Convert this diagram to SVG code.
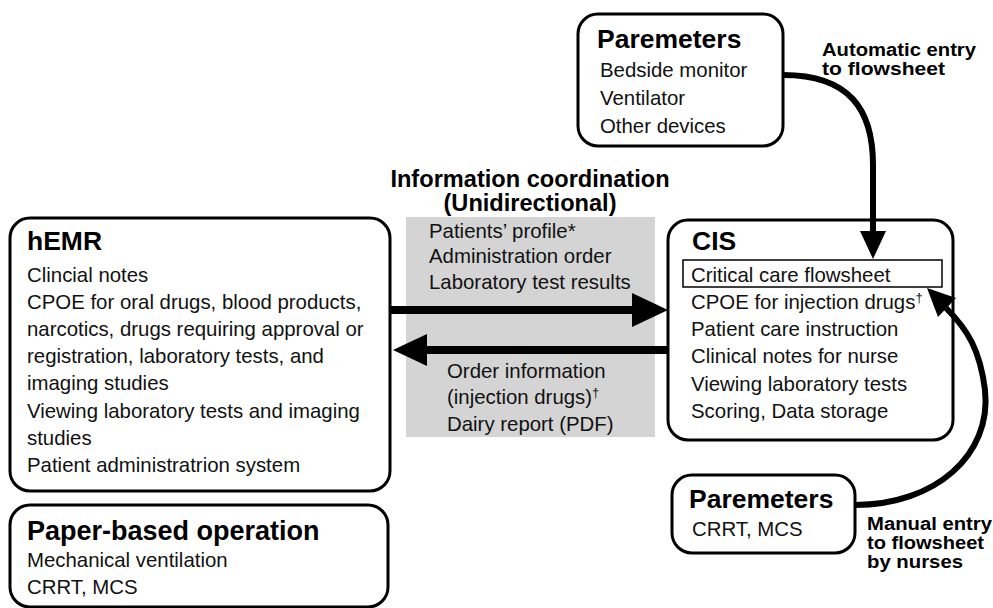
<svg xmlns="http://www.w3.org/2000/svg" width="993" height="608" viewBox="0 0 993 608">
<style>
.box{fill:#fff;stroke:#000;stroke-width:3}
.t{font-family:"Liberation Sans",Arial,sans-serif;font-size:20.4px;fill:#111}
.h{font-family:"Liberation Sans",Arial,sans-serif;font-size:26.5px;font-weight:bold;fill:#000}
.l{font-family:"Liberation Sans",Arial,sans-serif;font-size:18px;font-weight:bold;fill:#000}
.conn{fill:none;stroke:#000}
</style>
<rect x="0" y="0" width="993" height="608" fill="#fff"/>
<g id="coordination">
<rect x="406" y="217" width="249" height="220" fill="#d4d4d4"/>
<text class="l" x="530" y="187" text-anchor="middle" style="font-size:23.6px">Information coordination</text>
<text class="l" x="530" y="211" text-anchor="middle" style="font-size:23.6px">(Unidirectional)</text>
<text class="t" x="429" y="238">Patients’ profile*</text>
<text class="t" x="429" y="263">Administration order</text>
<text class="t" x="429" y="289">Laboratory test results</text>
<text class="t" x="447" y="378">Order information</text>
<text class="t" x="447" y="404">(injection drugs)<tspan font-size="13" dy="-7">†</tspan></text>
<text class="t" x="447" y="431">Dairy report (PDF)</text>
</g>
<g id="params-top">
<rect class="box" x="578" y="14" width="205" height="132" rx="20"/>
<text class="h" x="597" y="48">Paremeters</text>
<text class="t" x="600" y="77">Bedside monitor</text>
<text class="t" x="600" y="105">Ventilator</text>
<text class="t" x="600" y="133">Other devices</text>
</g>
<g id="hemr">
<rect class="box" x="10" y="218" width="380" height="273" rx="20"/>
<text class="h" x="27" y="250">hEMR</text>
<text class="t" x="27" y="282">Clincial notes</text>
<text class="t" x="27" y="309">CPOE for oral drugs, blood products,</text>
<text class="t" x="27" y="336">narcotics, drugs requiring approval or</text>
<text class="t" x="27" y="363">registration, laboratory tests, and</text>
<text class="t" x="27" y="390">imaging studies</text>
<text class="t" x="27" y="418">Viewing laboratory tests and imaging</text>
<text class="t" x="27" y="445">studies</text>
<text class="t" x="27" y="472">Patient administratrion system</text>
</g>
<g id="paper">
<rect class="box" x="10" y="505" width="378" height="102" rx="20"/>
<text class="h" x="27" y="540" style="font-size:27px">Paper-based operation</text>
<text class="t" x="27" y="567">Mechanical ventilation</text>
<text class="t" x="27" y="594">CRRT, MCS</text>
</g>
<g id="cis">
<rect class="box" x="668" y="220" width="285" height="220" rx="20"/>
<text class="h" x="692" y="250">CIS</text>
<rect x="683" y="260" width="259" height="27" fill="none" stroke="#000" stroke-width="1.5"/>
<text class="t" x="691" y="282">Critical care flowsheet</text>
<text class="t" x="691" y="309">CPOE for injection drugs<tspan font-size="13" dy="-7">†</tspan></text>
<text class="t" x="691" y="336">Patient care instruction</text>
<text class="t" x="691" y="363">Clinical notes for nurse</text>
<text class="t" x="691" y="391">Viewing laboratory tests</text>
<text class="t" x="691" y="418">Scoring, Data storage</text>
</g>
<g id="params-bottom">
<rect class="box" x="672" y="475" width="183" height="78" rx="20"/>
<text class="h" x="689" y="508">Paremeters</text>
<text class="t" x="692" y="536">CRRT, MCS</text>
</g>
<g id="connectors">
<line class="conn" x1="390" y1="310" x2="636" y2="310" stroke-width="8"/>
<polygon points="632,293 668,310 632,327"/>
<line class="conn" x1="668" y1="350" x2="422" y2="350" stroke-width="8"/>
<polygon points="427,334 393,350 427,366"/>
<path class="conn" d="M783 75 C 850 75, 873 110, 873 165 L 873 235" stroke-width="6"/>
<polygon points="860,231 886,231 873,259"/>
<path class="conn" d="M855 505 C 935 505, 992 455, 985 390 C 980 350, 968 330, 946 308" stroke-width="6"/>
<polygon points="927,288 956,298 938,317"/>
<text class="l" x="822" y="56" textLength="154" lengthAdjust="spacingAndGlyphs">Automatic entry</text>
<text class="l" x="822" y="75" textLength="123" lengthAdjust="spacingAndGlyphs">to flowsheet</text>
<text class="l" x="867" y="530" textLength="125" lengthAdjust="spacingAndGlyphs">Manual entry</text>
<text class="l" x="867" y="549" textLength="117" lengthAdjust="spacingAndGlyphs">to flowsheet</text>
<text class="l" x="867" y="568" textLength="96" lengthAdjust="spacingAndGlyphs">by nurses</text>
</g>
</svg>
